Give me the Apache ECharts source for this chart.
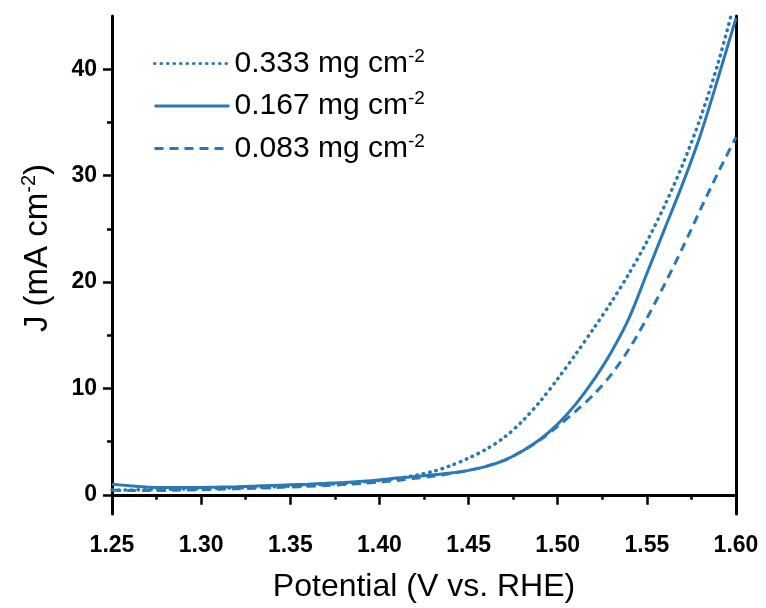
<!DOCTYPE html>
<html>
<head>
<meta charset="utf-8">
<title>LSV polarization curves</title>
<script src="https://cdn.jsdelivr.net/npm/echarts@6/dist/echarts.min.js"></script>
<style>
  html, body { margin: 0; padding: 0; background: #ffffff; }
  #chart { width: 766px; height: 608px; }
</style>
</head>
<body>
<div id="chart"></div>
<script>
// Potential grid (V vs. RHE)
const potential = [
  1.25, 1.26, 1.27, 1.28, 1.29, 1.30, 1.31, 1.32, 1.33, 1.34,
  1.35, 1.36, 1.37, 1.38, 1.39, 1.40, 1.41, 1.42, 1.43, 1.44,
  1.45, 1.46, 1.47, 1.48, 1.49, 1.50, 1.51, 1.52, 1.53, 1.54,
  1.55, 1.56, 1.57, 1.58, 1.59, 1.60
];

// Current density (mA cm^-2) for each catalyst loading
const j0333 = [
  0.45, 0.45, 0.50, 0.52, 0.55, 0.58, 0.62, 0.66, 0.70, 0.76,
  0.82, 0.90, 0.98, 1.08, 1.20, 1.35, 1.55, 1.82, 2.20, 2.75,
  3.45, 4.30, 5.40, 6.90, 8.75, 10.9, 13.2, 15.6, 18.1, 20.8,
  23.8, 27.2, 31.0, 35.4, 40.6, 46.8
];
const j0167 = [
  1.00, 0.85, 0.72, 0.68, 0.68, 0.70, 0.73, 0.77, 0.82, 0.88,
  0.94, 1.00, 1.08, 1.17, 1.27, 1.40, 1.58, 1.72, 1.88, 2.05,
  2.30, 2.68, 3.25, 4.10, 5.20, 6.65, 8.50, 10.75, 13.4, 16.6,
  20.8, 25.0, 29.2, 33.8, 39.2, 44.8
];
const j0083 = [
  0.45, 0.40, 0.40, 0.42, 0.45, 0.48, 0.52, 0.57, 0.62, 0.68,
  0.74, 0.80, 0.88, 0.97, 1.07, 1.20, 1.35, 1.55, 1.75, 2.00,
  2.30, 2.70, 3.25, 4.10, 5.15, 6.45, 7.85, 9.40, 11.3, 13.7,
  16.6, 19.8, 23.2, 26.8, 30.3, 33.6
];

const seriesNames = ['0.333 mg cm', '0.167 mg cm', '0.083 mg cm'];
const yMajorTicks = [0, 10, 20, 30, 40];
const yMinorTicks = [5, 15, 25, 35];

const lineColor = '#2b78b6';
const fontFamily = '"Liberation Sans", Arial, sans-serif';

const pairs = (ys) => potential.map((p, i) => [p, ys[i]]);

const yRange = { min: -1.8, max: 45 };
const xRange = { min: 1.25, max: 1.60 };
const frameLine = { show: true, lineStyle: { color: '#000', width: 3 } };

const chart = echarts.init(document.getElementById('chart'), null, { renderer: 'canvas' });

chart.setOption({
  backgroundColor: '#ffffff',
  animation: false,
  grid: { left: 112, right: 30, top: 16, bottom: 90 },
  legend: {
    orient: 'vertical',
    left: 153,
    top: 47,
    padding: 0,
    itemWidth: 75,
    itemHeight: 14,
    itemGap: 11,
    data: seriesNames,
    itemStyle: { color: 'rgba(0,0,0,0)', borderWidth: 0, opacity: 0 },
    lineStyle: { width: 3 },
    formatter: (name) => '{t|' + name + '}{s|-2}',
    textStyle: {
      color: '#000',
      fontFamily: fontFamily,
      rich: {
        t: { fontSize: 30, fontFamily: fontFamily, color: '#000', lineHeight: 33 },
        s: { fontSize: 19, fontFamily: fontFamily, color: '#000', verticalAlign: 'top', lineHeight: 19 }
      }
    }
  },
  xAxis: [
    {
      type: 'value',
      min: xRange.min,
      max: xRange.max,
      interval: 0.05,
      name: 'Potential (V vs. RHE)',
      nameLocation: 'middle',
      nameGap: 57,
      nameTextStyle: { fontSize: 32, fontFamily: fontFamily, color: '#000' },
      axisLine: frameLine,
      axisTick: { show: true, length: 10, lineStyle: { color: '#000', width: 2.5 } },
      minorTick: { show: true, splitNumber: 2, length: 5, lineStyle: { color: '#000', width: 2.5 } },
      axisLabel: {
        margin: 20,
        fontSize: 23,
        fontWeight: 'bold',
        fontFamily: fontFamily,
        color: '#000',
        formatter: (v) => v.toFixed(2)
      },
      splitLine: { show: false }
    },
    {
      type: 'value',
      position: 'top',
      min: xRange.min,
      max: xRange.max,
      axisLine: frameLine,
      axisTick: { show: false },
      axisLabel: { show: false },
      splitLine: { show: false }
    }
  ],
  yAxis: [
    {
      type: 'value',
      min: yRange.min,
      max: yRange.max,
      name: '{a|J (mA cm}{s|-2}{a|)}',
      nameLocation: 'middle',
      nameGap: 55,
      nameRotate: 90,
      nameTextStyle: {
        fontFamily: fontFamily,
        color: '#000',
        padding: [0, 0, 0, 34],
        rich: {
          a: { fontSize: 33, fontFamily: fontFamily, color: '#000', lineHeight: 38 },
          s: { fontSize: 20, fontFamily: fontFamily, color: '#000', verticalAlign: 'top', lineHeight: 20 }
        }
      },
      axisLine: frameLine,
      axisTick: { show: true, length: 9, customValues: yMajorTicks, lineStyle: { color: '#000', width: 2.5 } },
      axisLabel: {
        margin: 15,
        fontSize: 23,
        fontWeight: 'bold',
        fontFamily: fontFamily,
        color: '#000',
        customValues: yMajorTicks
      },
      splitLine: { show: false }
    },
    {
      type: 'value',
      position: 'left',
      min: yRange.min,
      max: yRange.max,
      axisLine: { show: false },
      axisTick: { show: true, length: 5, customValues: yMinorTicks, lineStyle: { color: '#000', width: 2.5 } },
      axisLabel: { show: false, customValues: yMinorTicks },
      splitLine: { show: false }
    },
    {
      type: 'value',
      position: 'right',
      min: yRange.min,
      max: yRange.max,
      axisLine: frameLine,
      axisTick: { show: false },
      axisLabel: { show: false },
      splitLine: { show: false }
    }
  ],
  series: [
    {
      name: seriesNames[0],
      type: 'line',
      data: pairs(j0333),
      symbol: 'none',
      smooth: 0.3,
      clip: true,
      lineStyle: { color: lineColor, width: 3.5, type: [0.5, 6], cap: 'round' },
      itemStyle: { color: lineColor }
    },
    {
      name: seriesNames[1],
      type: 'line',
      data: pairs(j0167),
      symbol: 'none',
      smooth: 0.3,
      clip: true,
      lineStyle: { color: lineColor, width: 3, type: 'solid' },
      itemStyle: { color: lineColor }
    },
    {
      name: seriesNames[2],
      type: 'line',
      data: pairs(j0083),
      symbol: 'none',
      smooth: 0.3,
      clip: true,
      lineStyle: { color: lineColor, width: 3, type: [9, 6] },
      itemStyle: { color: lineColor }
    }
  ]
});
</script>
</body>
</html>
